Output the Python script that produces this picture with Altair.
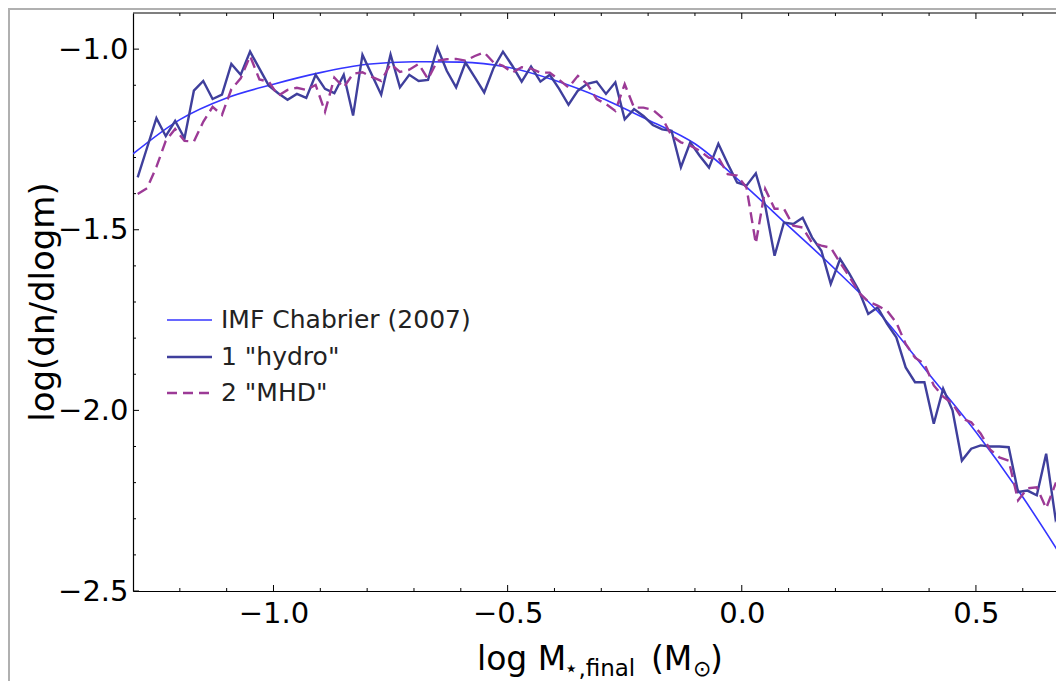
import altair as alt
import pandas as pd

# ---------------- data ----------------
x_grid = [-1.29, -1.27, -1.25, -1.23, -1.21, -1.19, -1.17, -1.15, -1.13, -1.11,
          -1.09, -1.07, -1.05, -1.03, -1.01, -0.99, -0.97, -0.95, -0.93, -0.91,
          -0.89, -0.87, -0.85, -0.83, -0.81, -0.79, -0.77, -0.75, -0.73, -0.71,
          -0.69, -0.67, -0.65, -0.63, -0.61, -0.59, -0.57, -0.55, -0.53, -0.51,
          -0.49, -0.47, -0.45, -0.43, -0.41, -0.39, -0.37, -0.35, -0.33, -0.31,
          -0.29, -0.27, -0.25, -0.23, -0.21, -0.19, -0.17, -0.15, -0.13, -0.11,
          -0.09, -0.07, -0.05, -0.03, -0.01, 0.01, 0.03, 0.05, 0.07, 0.09,
          0.11, 0.13, 0.15, 0.17, 0.19, 0.21, 0.23, 0.25, 0.27, 0.29,
          0.31, 0.33, 0.35, 0.37, 0.39, 0.41, 0.43, 0.45, 0.47, 0.49,
          0.51, 0.53, 0.55, 0.57, 0.59, 0.61, 0.63, 0.65, 0.67, 0.69]

y_hydro = [-1.355, -1.273, -1.191, -1.241, -1.199, -1.247, -1.115, -1.088, -1.138, -1.126,
           -1.041, -1.071, -1.007, -1.054, -1.101, -1.122, -1.140, -1.124, -1.135, -1.071,
           -1.110, -1.122, -1.071, -1.184, -1.016, -1.071, -1.126, -1.015, -1.106, -1.071,
           -1.088, -1.085, -0.996, -1.060, -1.106, -1.037, -1.078, -1.120, -1.052, -1.007,
           -1.046, -1.090, -1.048, -1.090, -1.071, -1.110, -1.154, -1.115, -1.096, -1.090,
           -1.124, -1.092, -1.194, -1.166, -1.185, -1.210, -1.222, -1.226, -1.327, -1.258,
           -1.295, -1.328, -1.262, -1.317, -1.369, -1.378, -1.344, -1.433, -1.572, -1.480,
           -1.484, -1.467, -1.521, -1.558, -1.650, -1.581, -1.622, -1.668, -1.733, -1.715,
           -1.760, -1.798, -1.881, -1.922, -1.922, -2.037, -1.940, -2.000, -2.139, -2.106,
           -2.097, -2.100, -2.100, -2.102, -2.226, -2.222, -2.235, -2.120, -2.300, -2.240]

y_mhd = [-1.401, -1.385, -1.326, -1.254, -1.221, -1.254, -1.256, -1.201, -1.160, -1.182,
         -1.111, -1.081, -1.019, -1.084, -1.090, -1.129, -1.113, -1.107, -1.113, -1.099,
         -1.173, -1.079, -1.106, -1.068, -1.064, -1.077, -1.088, -1.041, -1.063, -1.057,
         -1.041, -1.083, -1.032, -1.028, -1.027, -1.032, -1.019, -1.009, -1.037, -1.046,
         -1.065, -1.050, -1.054, -1.065, -1.065, -1.085, -1.106, -1.074, -1.097, -1.138,
         -1.152, -1.171, -1.097, -1.162, -1.162, -1.168, -1.190, -1.240, -1.258, -1.267,
         -1.281, -1.301, -1.300, -1.346, -1.350, -1.383, -1.538, -1.387, -1.442, -1.442,
         -1.489, -1.494, -1.536, -1.544, -1.550, -1.591, -1.630, -1.674, -1.699, -1.710,
         -1.724, -1.757, -1.816, -1.854, -1.871, -1.931, -1.962, -1.981, -2.022, -2.033,
         -2.064, -2.108, -2.130, -2.139, -2.249, -2.216, -2.213, -2.271, -2.203, -2.217]

x_imf = [-1.30, -1.20, -1.10, -1.00, -0.90, -0.80, -0.70, -0.60, -0.50, -0.40, -0.30,
         -0.20, -0.10, 0.00, 0.10, 0.20, 0.30, 0.40, 0.50, 0.60, 0.70]
y_imf = [-1.290, -1.195, -1.135, -1.097, -1.065, -1.042, -1.035, -1.036, -1.050, -1.086,
         -1.135, -1.196, -1.262, -1.370, -1.490, -1.610, -1.740, -1.900, -2.060, -2.240, -2.440]

x_major = [-1.0, -0.5, 0.0, 0.5]
x_minor = [-1.2, -1.1, -0.9, -0.8, -0.7, -0.6, -0.4, -0.3, -0.2, -0.1,
           0.1, 0.2, 0.3, 0.4, 0.6]
y_major = [-2.5, -2.0, -1.5, -1.0]
y_minor = [-2.4, -2.3, -2.2, -2.1, -1.9, -1.8, -1.7, -1.6, -1.4, -1.3, -1.2, -1.1]

series_names = ["IMF Chabrier (2007)", '1 "hydro"', '2 "MHD"']
series_colors = ["#3535ff", "#3f3f9c", "#9c3a96"]

# ---------------- layout ----------------
W, H = 923, 578
FONT = "DejaVu Sans"
x_dom = [-1.3, 0.671]
y_dom = [-2.5, -0.9]

xs = alt.Scale(domain=x_dom, nice=False, zero=False)
ys = alt.Scale(domain=y_dom, nice=False, zero=False)

x_axis = alt.Axis(values=x_major, format=".1f", title=None, ticks=False,
                  grid=False, domainColor="black", domainWidth=1.2,
                  labelFont=FONT, labelFontSize=29, labelColor="black",
                  labelPadding=8)
y_axis = alt.Axis(values=y_major, format=".1f", title=None, ticks=False,
                  grid=False, domainColor="black", domainWidth=1.2,
                  labelFont=FONT, labelFontSize=29, labelColor="black",
                  labelPadding=5)
X = alt.X("x:Q", scale=xs, axis=x_axis)
Y = alt.Y("y:Q", scale=ys, axis=y_axis)

df_h = pd.DataFrame({"x": x_grid, "y": y_hydro})
df_m = pd.DataFrame({"x": x_grid, "y": y_mhd})
df_i = pd.DataFrame({"x": x_imf, "y": y_imf})
one_row = pd.DataFrame({"k": [0]})

imf = alt.Chart(df_i).mark_line(color=series_colors[0], strokeWidth=1.6,
                                interpolate="monotone", clip=True).encode(x=X, y=Y)
hydro = alt.Chart(df_h).mark_line(color=series_colors[1], strokeWidth=2.4,
                                  clip=True).encode(x=X, y=Y)
mhd = alt.Chart(df_m).mark_line(color=series_colors[2], strokeWidth=2.4, strokeDash=[11, 6],
                                clip=True).encode(x=X, y=Y)


# inward ticks on bottom, top and left
def xticks(vals, length):
    d = pd.DataFrame({"x": vals})
    b = alt.Chart(d).mark_rule(color="black", strokeWidth=1).encode(
        x=X, y=alt.value(H), y2=alt.value(H - length))
    t = alt.Chart(d).mark_rule(color="black", strokeWidth=1).encode(
        x=X, y=alt.value(0), y2=alt.value(length))
    return [b, t]


def yticks(vals, length):
    d = pd.DataFrame({"y": vals})
    return [alt.Chart(d).mark_rule(color="black", strokeWidth=1).encode(
        y=Y, x=alt.value(0), x2=alt.value(length))]


ticks = xticks(x_major, 6) + xticks(x_minor, 3) + yticks(y_major, 6) + yticks(y_minor, 3)

top_line = alt.Chart(one_row).mark_rule(color="black", strokeWidth=1.2).encode(
    x=alt.value(0), x2=alt.value(W), y=alt.value(0))

# thin grey frame of the picture (top and left edges)
frame_top = alt.Chart(one_row).mark_rule(color="#b0b0b0", strokeWidth=2).encode(
    x=alt.value(-125), x2=alt.value(W), y=alt.value(-4))
frame_left = alt.Chart(one_row).mark_rule(color="#b0b0b0", strokeWidth=2).encode(
    x=alt.value(-124), y=alt.value(-5), y2=alt.value(H + 90))

# legend (drawn by hand)
leg_rows = [307, 344, 380]
legend_layers = []
for i, (nm, col) in enumerate(zip(series_names, series_colors)):
    one = pd.DataFrame({"name": [nm]})
    kw = dict(color=col, strokeWidth=1.6 if i == 0 else 2.6)
    if i == 2:
        kw["strokeDash"] = [10, 6]
    legend_layers.append(alt.Chart(one).mark_rule(**kw).encode(
        x=alt.value(34), x2=alt.value(79), y=alt.value(leg_rows[i])))
    legend_layers.append(alt.Chart(one).mark_text(
        align="left", baseline="middle", font=FONT, fontSize=25, color="#222222").encode(
        x=alt.value(88), y=alt.value(leg_rows[i]), text="name:N"))

# axis titles
ytitle = alt.Chart(one_row).mark_text(angle=270, font=FONT, fontSize=34, color="black",
                                      align="center", baseline="middle").encode(
    x=alt.value(-89), y=alt.value(289), text=alt.value("log(dn/dlogm)"))


def tx(txt, x, y, size):
    return alt.Chart(one_row).mark_text(font=FONT, fontSize=size, color="black",
                                        align="left", baseline="alphabetic").encode(
        x=alt.value(x), y=alt.value(y), text=alt.value(txt))


xtitle = [tx("log M", 344, 657, 33), tx("\u22c6,final", 431, 663, 23),
          tx("(M", 518, 657, 33), tx("\u2299", 560, 663, 22), tx(")", 577, 657, 33)]

chart = alt.layer(frame_top, frame_left, imf, hydro, mhd, *ticks, top_line,
                  *legend_layers, ytitle, *xtitle).properties(
    width=W, height=H, background="white",
    autosize=alt.AutoSizeParams(type="none"),
    padding={"left": 125, "top": 5, "right": 0, "bottom": 90},
).configure_view(stroke=None)

chart.save("out.html", embed_options={"renderer": "svg", "actions": False})
